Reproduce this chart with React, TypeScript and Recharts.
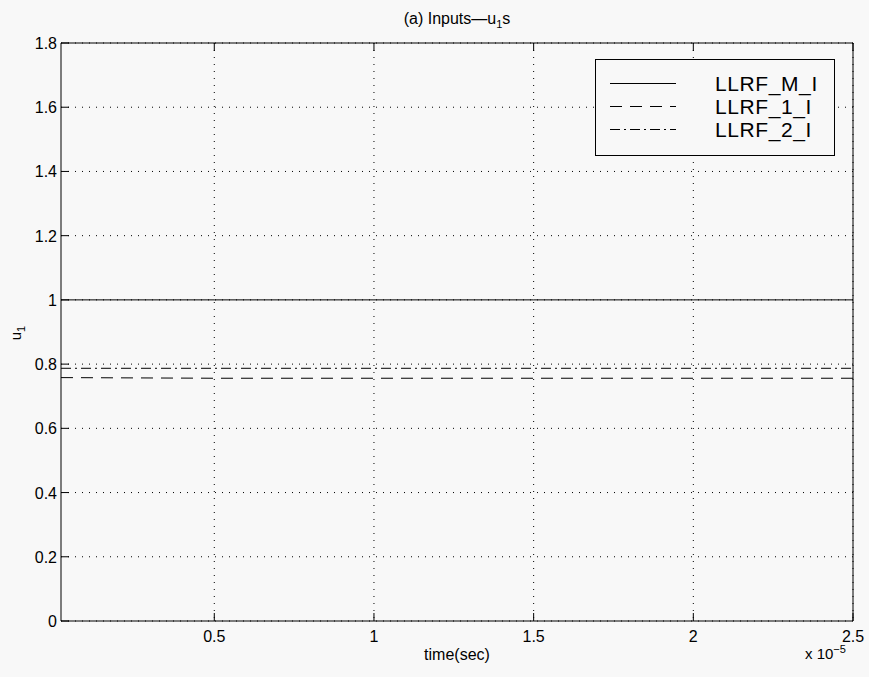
import React from "react";
import { LineChart, Line, XAxis, YAxis, CartesianGrid, Legend } from "recharts";

// time in units of 1e-5 s
const time = [0.02, 0.5, 1, 1.5, 2, 2.5];
const llrfM = [1, 1, 1, 1, 1, 1];
const llrf1 = [0.758, 0.756, 0.756, 0.756, 0.756, 0.756];
const llrf2 = [0.787, 0.787, 0.787, 0.787, 0.787, 0.787];

const xTicks = [0.5, 1, 1.5, 2, 2.5];
const yTicks = [0, 0.2, 0.4, 0.6, 0.8, 1, 1.2, 1.4, 1.6, 1.8];

const data = time.map((t, i) => ({ t, m: llrfM[i], a: llrf1[i], b: llrf2[i] }));

const FONT = "'Liberation Sans', Arial, Helvetica, sans-serif";
const BG = "#f8f8f8";

const series = [
  { key: "m", name: "LLRF_M_I", dash: undefined as string | undefined },
  { key: "a", name: "LLRF_1_I", dash: "12 8" },
  { key: "b", name: "LLRF_2_I", dash: "10 4 2 4" },
];

const LeftTick = (props: any) => {
  const { x, y, payload } = props;
  return (
    <g>
      <line x1={x + 4} x2={x + 12} y1={y} y2={y} stroke="#000" />
      <text x={x} y={y} dy={6} textAnchor="end" fontSize={16} fontFamily={FONT} fill="#000">
        {payload.value}
      </text>
    </g>
  );
};

const RightTick = (props: any) => {
  const { x, y } = props;
  return <line x1={x} x2={x - 8} y1={y} y2={y} stroke="#000" />;
};

const BottomTick = (props: any) => {
  const { x, y, payload } = props;
  return (
    <g>
      <line x1={x} x2={x} y1={y} y2={y - 8} stroke="#000" />
      <text x={x} y={y} dy={21} textAnchor="middle" fontSize={16} fontFamily={FONT} fill="#000">
        {payload.value}
      </text>
    </g>
  );
};

const TopTick = (props: any) => {
  const { x, y } = props;
  return <line x1={x} x2={x} y1={y} y2={y + 8} stroke="#000" />;
};

const LegendBox = () => (
  <div
    style={{
      border: "1px solid #000",
      background: BG,
      width: 240,
      height: 97,
      boxSizing: "border-box",
      paddingTop: 12,
      fontFamily: FONT,
    }}
  >
    {series.map((s) => (
      <div key={s.key} style={{ display: "flex", alignItems: "center", height: 23 }}>
        <svg width={119} height={23}>
          <line x1={14} x2={80} y1={11.5} y2={11.5} stroke="#000" strokeDasharray={s.dash} />
        </svg>
        <span style={{ fontSize: 21, lineHeight: "23px", letterSpacing: 0.6 }}>{s.name}</span>
      </div>
    ))}
  </div>
);

export default function App() {
  return (
    <div style={{ position: "absolute", left: 0, top: 0, width: 869, height: 677, background: BG, fontFamily: FONT }}>
      <div style={{ position: "absolute", left: 0, width: 914, top: 10, textAlign: "center", fontSize: 16 }}>
        (a) Inputs—u<sub style={{ fontSize: 11 }}>1</sub>s
      </div>
      <div style={{ position: "absolute", left: 0, width: 914, top: 646, textAlign: "center", fontSize: 16 }}>
        time(sec)
      </div>
      <div style={{ position: "absolute", left: 805, top: 643, fontSize: 15 }}>
        x 10<sup style={{ fontSize: 11 }}>−5</sup>
      </div>
      <div
        style={{
          position: "absolute",
          left: 10,
          top: 323,
          fontSize: 15,
          transform: "rotate(-90deg)",
          transformOrigin: "center",
        }}
      >
        u<sub style={{ fontSize: 11 }}>1</sub>
      </div>
      <LineChart width={869} height={677} data={data} margin={{ top: 42, right: 15, left: 0, bottom: 0 }}>
        <CartesianGrid stroke="#000" strokeDasharray="1 6" horizontalValues={yTicks} verticalValues={xTicks} />
        <XAxis
          dataKey="t"
          type="number"
          domain={[0.02, 2.5]}
          ticks={xTicks}
          height={56}
          tickSize={0}
          tickMargin={0}
          tickLine={false}
          axisLine={{ stroke: "#000" }}
          tick={BottomTick}
          interval={0}
          allowDataOverflow
        />
        <XAxis
          xAxisId="top"
          orientation="top"
          dataKey="t"
          type="number"
          domain={[0.02, 2.5]}
          ticks={xTicks}
          height={1}
          tickSize={0}
          tickMargin={0}
          tickLine={false}
          axisLine={{ stroke: "#000" }}
          tick={TopTick}
          interval={0}
          allowDataOverflow
        />
        <YAxis
          type="number"
          domain={[0, 1.8]}
          ticks={yTicks}
          width={61}
          tickSize={0}
          tickMargin={4}
          tickLine={false}
          axisLine={{ stroke: "#000" }}
          tick={LeftTick}
          interval={0}
        />
        <YAxis
          yAxisId="right"
          orientation="right"
          type="number"
          domain={[0, 1.8]}
          ticks={yTicks}
          width={1}
          tickSize={0}
          tickMargin={0}
          tickLine={false}
          axisLine={{ stroke: "#000" }}
          tick={RightTick}
          interval={0}
        />
        <Legend
          layout="horizontal"
          verticalAlign="middle"
          align="center"
          content={LegendBox}
          wrapperStyle={{ position: "absolute", left: 595, top: 59, width: 240, height: 97 }}
        />
        {series.map((s) => (
          <Line
            key={s.key}
            dataKey={s.key}
            name={s.name}
            type="linear"
            stroke="#000"
            strokeWidth={1}
            strokeDasharray={s.dash}
            dot={false}
            activeDot={false}
            isAnimationActive={false}
          />
        ))}
      </LineChart>
    </div>
  );
}
